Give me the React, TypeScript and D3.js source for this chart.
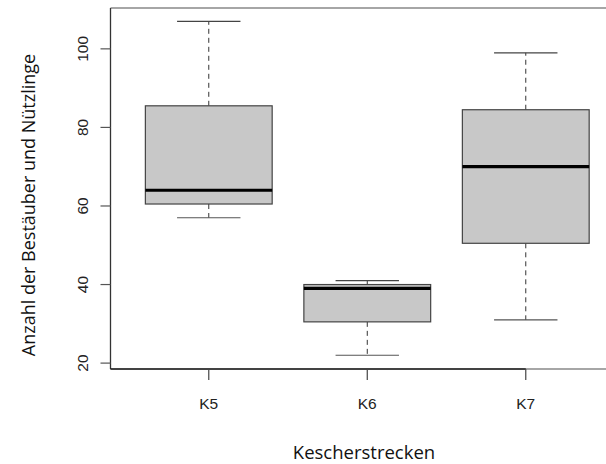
import React from 'react';
import * as d3 from 'd3';

// Kescherstrecken and their box statistics
const categories = ['K5', 'K6', 'K7'];
const whiskerLow = [57, 22, 31];
const q1 = [60.5, 30.5, 50.5];
const medians = [64, 39, 70];
const q3 = [85.5, 40, 84.5];
const whiskerHigh = [107, 41, 99];
const yTicks = [20, 40, 60, 80, 100];

const width = 606;
const height = 464;
const plot = { left: 110.5, top: 8, bottom: 369 };

const titleFont = "'Open Sans', 'Noto Sans', sans-serif";
const tickFont = "'Liberation Sans', Arial, sans-serif";

export default function App() {
  const y = d3.scaleLinear().domain([18.5, 110.4]).range([plot.bottom, plot.top]);
  // positions 1..3, with the same outer space R gives after the axis
  const x = d3.scaleLinear().domain([0.38, 3.62]).range([plot.left, plot.left + 3.24 * 158.5]);
  const boxHalf = 0.4;
  const capHalf = 0.2;

  return (
    <svg width={width} height={height} style={{ position: 'absolute', left: 0, top: 0 }}>
      <rect width={width} height={height} fill="#fff" />

      {categories.map((c, i) => {
        const cx = x(i + 1);
        const x0 = x(i + 1 - boxHalf);
        const x1 = x(i + 1 + boxHalf);
        return (
          <g key={c}>
            <line x1={cx} x2={cx} y1={y(q3[i])} y2={y(whiskerHigh[i])} stroke="#333" strokeWidth={1} strokeDasharray="5,4" />
            <line x1={cx} x2={cx} y1={y(q1[i])} y2={y(whiskerLow[i])} stroke="#333" strokeWidth={1} strokeDasharray="5,4" />
            <line x1={x(i + 1 - capHalf)} x2={x(i + 1 + capHalf)} y1={y(whiskerHigh[i])} y2={y(whiskerHigh[i])} stroke="#444" strokeWidth={1.2} />
            <line x1={x(i + 1 - capHalf)} x2={x(i + 1 + capHalf)} y1={y(whiskerLow[i])} y2={y(whiskerLow[i])} stroke="#555" strokeWidth={1.2} />
            <rect x={x0} y={y(q3[i])} width={x1 - x0} height={y(q1[i]) - y(q3[i])} fill="#c8c8c8" stroke="#444" strokeWidth={1.2} />
            <line x1={x0} x2={x1} y1={y(medians[i])} y2={y(medians[i])} stroke="#000" strokeWidth={3.2} />
          </g>
        );
      })}

      {/* frame */}
      <line x1={plot.left} x2={width + 10} y1={plot.top} y2={plot.top} stroke="#888" strokeWidth={1.5} />
      <line x1={plot.left} x2={width + 10} y1={plot.bottom} y2={plot.bottom} stroke="#888" strokeWidth={1.5} />
      <line x1={plot.left} x2={plot.left} y1={plot.top} y2={plot.bottom} stroke="#333" strokeWidth={1.3} />
      <line x1={plot.left} x2={x(3)} y1={plot.bottom} y2={plot.bottom} stroke="#222" strokeWidth={1.5} />

      {/* y axis */}
      {yTicks.map(t => (
        <g key={t}>
          <line x1={plot.left - 10} x2={plot.left} y1={y(t)} y2={y(t)} stroke="#555" strokeWidth={1.2} />
          <text
            transform={`translate(88,${y(t)}) rotate(-90)`}
            textAnchor="middle"
            fontFamily={tickFont}
            fontSize={15.5}
            fill="#222"
          >
            {t}
          </text>
        </g>
      ))}

      {/* x axis */}
      {categories.map((c, i) => (
        <g key={c}>
          <line x1={x(i + 1)} x2={x(i + 1)} y1={plot.bottom} y2={plot.bottom + 11} stroke="#444" strokeWidth={1.2} />
          <text x={x(i + 1)} y={409} textAnchor="middle" fontFamily={tickFont} fontSize={15.5} fill="#222">
            {c}
          </text>
        </g>
      ))}

      <text x={364} y={458.5} textAnchor="middle" fontFamily={titleFont} fontSize={18.5} fill="#111">
        Kescherstrecken
      </text>
      <text
        transform={`translate(35,${205}) rotate(-90)`}
        textAnchor="middle"
        fontFamily={titleFont}
        fontSize={18}
        fill="#111"
      >
        Anzahl der Bestäuber und Nützlinge
      </text>
    </svg>
  );
}
